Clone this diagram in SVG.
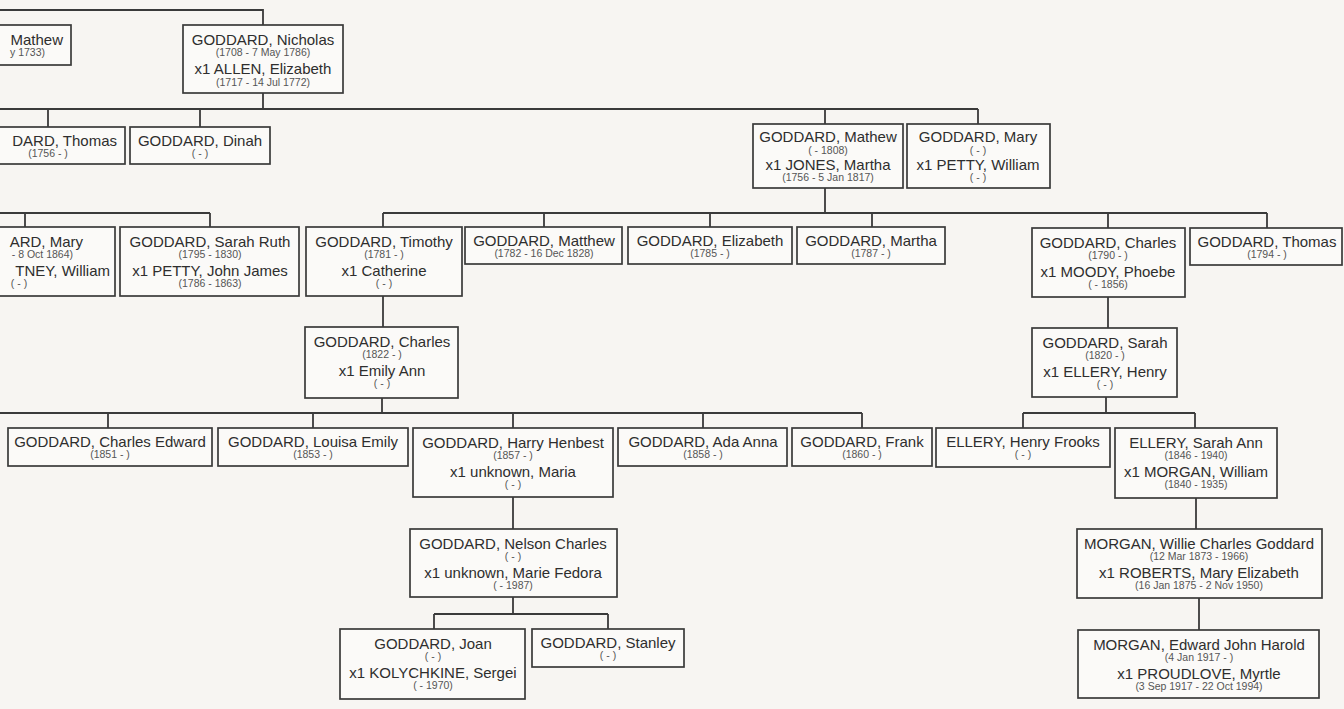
<svg xmlns="http://www.w3.org/2000/svg" width="1344" height="709" viewBox="0 0 1344 709">
<style>
.bg{fill:#f7f5f2}
.box{fill:#fbfaf8;stroke:#3a3a3a;stroke-width:1.7}
.ln{fill:none;stroke:#3a3a3a;stroke-width:1.8}
text{font-family:"Liberation Sans",Arial,sans-serif;fill:#2e2e2e;text-anchor:middle}
.n{font-size:15px}
.d{font-size:10.5px;fill:#555}
.e{text-anchor:end}
</style>
<rect class="bg" x="0" y="0" width="1344" height="709"/>
<g id="connectors">
<path class="ln" d="M0,10 H263 V25"/>
<path class="ln" d="M263,93 V109 M0,109 H978 M48,109 V127 M200,109 V127 M825,109 V124 M978,109 V124"/>
<path class="ln" d="M825,188 V213 M383,213 H1267 M383,213 V227 M544,213 V227 M710,213 V227 M872,213 V227 M1108,213 V228 M1267,213 V228"/>
<path class="ln" d="M0,213 H210 M25,213 V227 M210,213 V227"/>
<path class="ln" d="M383,296 V327"/>
<path class="ln" d="M1108,297 V328"/>
<path class="ln" d="M382,398 V413 M0,413 H862 M108,413 V428 M313,413 V428 M513,413 V428 M703,413 V428 M862,413 V428"/>
<path class="ln" d="M1106,397 V413 M1023,413 H1195 M1023,413 V428 M1195,413 V428"/>
<path class="ln" d="M513,497 V529"/>
<path class="ln" d="M1196,498 V529"/>
<path class="ln" d="M513,597 V614 M434,614 H608 M434,614 V629 M608,614 V629"/>
<path class="ln" d="M1199,598 V630"/>
</g>
<g id="n-mathew-top"><rect class="box" x="-5" y="25" width="76" height="40"/>
<text class="n e" x="63" y="45">Mathew</text><text class="d e" x="45" y="55.5">y 1733)</text></g>
<g id="n-nicholas"><rect class="box" x="183" y="25" width="160" height="68"/>
<text class="n" x="263" y="45">GODDARD, Nicholas</text><text class="d" x="263" y="56">(1708 - 7 May 1786)</text>
<text class="n" x="263" y="74">x1 ALLEN, Elizabeth</text><text class="d" x="263" y="85.5">(1717 - 14 Jul 1772)</text></g>
<g id="n-thomas1756"><rect class="box" x="-5" y="127" width="130" height="37"/>
<text class="n e" x="117" y="146">DARD, Thomas</text><text class="d" x="48" y="157">(1756 - )</text></g>
<g id="n-dinah"><rect class="box" x="130" y="127" width="140" height="37"/>
<text class="n" x="200" y="146">GODDARD, Dinah</text><text class="d" x="200" y="157">( - )</text></g>
<g id="n-mathew"><rect class="box" x="753" y="124" width="150" height="64"/>
<text class="n" x="828" y="141.5">GODDARD, Mathew</text><text class="d" x="828" y="154">( - 1808)</text>
<text class="n" x="828" y="170">x1 JONES, Martha</text><text class="d" x="828" y="181">(1756 - 5 Jan 1817)</text></g>
<g id="n-mary"><rect class="box" x="907" y="124" width="143" height="64"/>
<text class="n" x="978" y="141.5">GODDARD, Mary</text><text class="d" x="978" y="154">( - )</text>
<text class="n" x="978" y="170">x1 PETTY, William</text><text class="d" x="978" y="181">( - )</text></g>
<g id="n-mary2"><rect class="box" x="-5" y="227" width="120" height="69"/>
<text class="n e" x="83" y="247">ARD, Mary</text><text class="d e" x="73" y="258">- 8 Oct 1864)</text>
<text class="n e" x="110" y="275.5">TNEY, William</text><text class="d" x="19" y="286.5">( - )</text></g>
<g id="n-sarahruth"><rect class="box" x="120" y="227" width="179" height="69"/>
<text class="n" x="210" y="247">GODDARD, Sarah Ruth</text><text class="d" x="210" y="258">(1795 - 1830)</text>
<text class="n" x="210" y="275.5">x1 PETTY, John James</text><text class="d" x="210" y="286.5">(1786 - 1863)</text></g>
<g id="n-timothy"><rect class="box" x="306" y="227" width="156" height="69"/>
<text class="n" x="384" y="247">GODDARD, Timothy</text><text class="d" x="384" y="258">(1781 - )</text>
<text class="n" x="384" y="275.5">x1 Catherine</text><text class="d" x="384" y="286.5">( - )</text></g>
<g id="n-matthew"><rect class="box" x="465" y="227" width="157" height="37"/>
<text class="n" x="544" y="246">GODDARD, Matthew</text><text class="d" x="544" y="257">(1782 - 16 Dec 1828)</text></g>
<g id="n-elizabeth"><rect class="box" x="628" y="227" width="164" height="37"/>
<text class="n" x="710" y="246">GODDARD, Elizabeth</text><text class="d" x="710" y="257">(1785 - )</text></g>
<g id="n-martha"><rect class="box" x="797" y="227" width="148" height="37"/>
<text class="n" x="871" y="246">GODDARD, Martha</text><text class="d" x="871" y="257">(1787 - )</text></g>
<g id="n-charles1790"><rect class="box" x="1032" y="228" width="153" height="69"/>
<text class="n" x="1108" y="248">GODDARD, Charles</text><text class="d" x="1108" y="259">(1790 - )</text>
<text class="n" x="1108" y="276.5">x1 MOODY, Phoebe</text><text class="d" x="1108" y="287.5">( - 1856)</text></g>
<g id="n-thomas1794"><rect class="box" x="1190" y="228" width="152" height="37"/>
<text class="n" x="1267" y="247">GODDARD, Thomas</text><text class="d" x="1267" y="258">(1794 - )</text></g>
<g id="n-charles1822"><rect class="box" x="305" y="327" width="153" height="71"/>
<text class="n" x="382" y="347">GODDARD, Charles</text><text class="d" x="382" y="358">(1822 - )</text>
<text class="n" x="382" y="375.5">x1 Emily Ann</text><text class="d" x="382" y="386.5">( - )</text></g>
<g id="n-sarah1820"><rect class="box" x="1032" y="328" width="145" height="69"/>
<text class="n" x="1105" y="348">GODDARD, Sarah</text><text class="d" x="1105" y="359">(1820 - )</text>
<text class="n" x="1105" y="376.5">x1 ELLERY, Henry</text><text class="d" x="1105" y="387.5">( - )</text></g>
<g id="n-charlesedward"><rect class="box" x="8" y="428" width="204" height="38"/>
<text class="n" x="110" y="447">GODDARD, Charles Edward</text><text class="d" x="110" y="458">(1851 - )</text></g>
<g id="n-louisa"><rect class="box" x="218" y="428" width="190" height="38"/>
<text class="n" x="313" y="447">GODDARD, Louisa Emily</text><text class="d" x="313" y="458">(1853 - )</text></g>
<g id="n-harry"><rect class="box" x="413" y="428" width="200" height="69"/>
<text class="n" x="513" y="448">GODDARD, Harry Henbest</text><text class="d" x="513" y="459">(1857 - )</text>
<text class="n" x="513" y="476.5">x1 unknown, Maria</text><text class="d" x="513" y="487.5">( - )</text></g>
<g id="n-ada"><rect class="box" x="618" y="428" width="169" height="38"/>
<text class="n" x="703" y="447">GODDARD, Ada Anna</text><text class="d" x="703" y="458">(1858 - )</text></g>
<g id="n-frank"><rect class="box" x="792" y="428" width="140" height="38"/>
<text class="n" x="862" y="447">GODDARD, Frank</text><text class="d" x="862" y="458">(1860 - )</text></g>
<g id="n-henryfrooks"><rect class="box" x="936" y="428" width="174" height="39"/>
<text class="n" x="1023" y="447">ELLERY, Henry Frooks</text><text class="d" x="1023" y="458">( - )</text></g>
<g id="n-sarahann"><rect class="box" x="1115" y="428" width="162" height="70"/>
<text class="n" x="1196" y="448">ELLERY, Sarah Ann</text><text class="d" x="1196" y="459">(1846 - 1940)</text>
<text class="n" x="1196" y="476.5">x1 MORGAN, William</text><text class="d" x="1196" y="487.5">(1840 - 1935)</text></g>
<g id="n-nelson"><rect class="box" x="410" y="529" width="207" height="68"/>
<text class="n" x="513" y="549">GODDARD, Nelson Charles</text><text class="d" x="513" y="560">( - )</text>
<text class="n" x="513" y="577.5">x1 unknown, Marie Fedora</text><text class="d" x="513" y="588.5">( - 1987)</text></g>
<g id="n-willie"><rect class="box" x="1077" y="529" width="245" height="69"/>
<text class="n" x="1199" y="549">MORGAN, Willie Charles Goddard</text><text class="d" x="1199" y="560">(12 Mar 1873 - 1966)</text>
<text class="n" x="1199" y="577.5">x1 ROBERTS, Mary Elizabeth</text><text class="d" x="1199" y="588.5">(16 Jan 1875 - 2 Nov 1950)</text></g>
<g id="n-joan"><rect class="box" x="340" y="629" width="185" height="70"/>
<text class="n" x="433" y="649">GODDARD, Joan</text><text class="d" x="433" y="660">( - )</text>
<text class="n" x="433" y="677.5">x1 KOLYCHKINE, Sergei</text><text class="d" x="433" y="688.5">( - 1970)</text></g>
<g id="n-stanley"><rect class="box" x="532" y="629" width="152" height="38"/>
<text class="n" x="608" y="648">GODDARD, Stanley</text><text class="d" x="608" y="659">( - )</text></g>
<g id="n-edward"><rect class="box" x="1078" y="630" width="241" height="68"/>
<text class="n" x="1199" y="650">MORGAN, Edward John Harold</text><text class="d" x="1199" y="661">(4 Jan 1917 - )</text>
<text class="n" x="1199" y="678.5">x1 PROUDLOVE, Myrtle</text><text class="d" x="1199" y="689.5">(3 Sep 1917 - 22 Oct 1994)</text></g>
</svg>
